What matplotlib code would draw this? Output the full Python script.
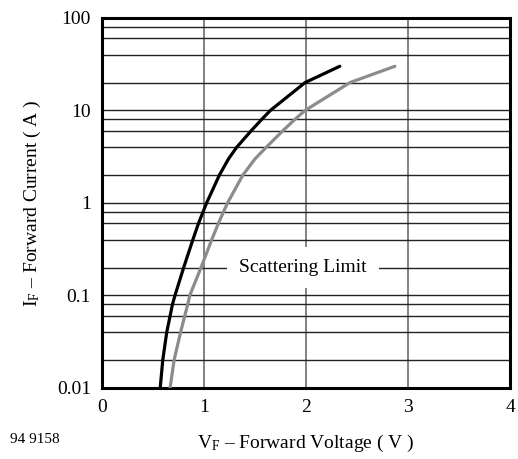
"""Forward current vs forward voltage (log scale) datasheet chart."""

import numpy as np
import matplotlib
matplotlib.use("Agg")
import matplotlib.pyplot as plt
from matplotlib.ticker import FixedLocator, NullFormatter

plt.rcParams["font.family"] = ["Liberation Serif", "DejaVu Serif"]
plt.rcParams["mathtext.fontset"] = "custom"
plt.rcParams["mathtext.rm"] = "Liberation Serif"

# curve 1 (black)
vf_black = [0.57, 0.595, 0.634, 0.667, 0.69, 0.715, 0.80, 0.89, 0.945, 0.99, 1.025,
            1.15, 1.24, 1.32, 1.46, 1.565, 1.65, 1.99, 2.33]
if_black = [0.01, 0.02, 0.04, 0.06, 0.08, 0.1, 0.2, 0.4, 0.6, 0.8, 1,
            2, 3, 4, 6, 8, 10, 20, 30]
# curve 2 (grey)
vf_grey = [0.667, 0.706, 0.77, 0.81, 0.84, 0.86, 0.97, 1.075, 1.14, 1.19, 1.23,
           1.38, 1.50, 1.61, 1.77, 1.89, 1.99, 2.43, 2.87]
if_grey = [0.01, 0.02, 0.04, 0.06, 0.08, 0.1, 0.2, 0.4, 0.6, 0.8, 1,
           2, 3, 4, 6, 8, 10, 20, 30]

x_ticks = [0, 1, 2, 3, 4]
y_ticks = [0.01, 0.1, 1, 10, 100]
y_ticklabels = ["0.01", "0.1", "1", "10", "100"]
y_minor = [m * d for d in [0.01, 0.1, 1, 10] for m in [2, 4, 6, 8]]

fig = plt.figure(figsize=(5.18, 4.59), dpi=100)
ax = fig.add_axes([0.197, 0.155, 0.788, 0.806])

ax.set_yscale("log")
ax.set_xlim(0, 4)
ax.set_ylim(0.01, 100)

ax.plot(vf_grey, if_grey, color="#8c8c8c", linewidth=2.3,
        solid_capstyle="round", solid_joinstyle="round", zorder=3)
ax.plot(vf_black, if_black, color="black", linewidth=2.3,
        solid_capstyle="round", solid_joinstyle="round", zorder=3)

ax.set_xticks(x_ticks)
ax.set_xticklabels([str(t) for t in x_ticks])
ax.set_yticks(y_ticks)
ax.set_yticklabels(y_ticklabels)
ax.yaxis.set_minor_locator(FixedLocator(y_minor))
ax.yaxis.set_minor_formatter(NullFormatter())
ax.xaxis.set_minor_locator(FixedLocator([]))
ax.tick_params(which="both", length=0, labelsize=14, pad=8)

ax.grid(True, axis="y", which="both", color="#222222", linewidth=1.0)
ax.grid(True, axis="x", which="major", color="#777777", linewidth=1.3)

for sp in ax.spines.values():
    sp.set_linewidth(2.2)

ax.text(1.97, 0.2, "Scattering Limit", fontsize=14, ha="center", va="center",
        bbox=dict(facecolor="white", edgecolor="none", pad=9), zorder=2.5)

ax.set_xlabel(r"$\mathregular{V_F}$ – Forward Voltage ( V )", fontsize=14, labelpad=12)
ax.set_ylabel(r"$\mathregular{I_F}$ – Forward Current ( A )", fontsize=14, labelpad=10)

fig.text(0.02, 0.035, "94 9158", fontsize=11)

plt.savefig("out.png", dpi=100)
plt.close(fig)
